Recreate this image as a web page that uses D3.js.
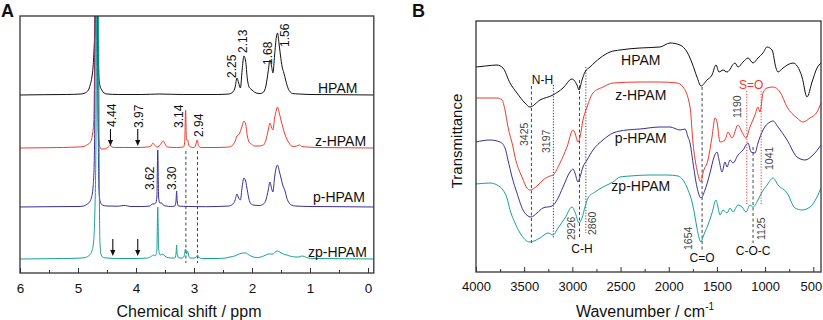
<!DOCTYPE html>
<html><head><meta charset="utf-8">
<script src="https://cdn.jsdelivr.net/npm/d3@7"></script>
<style>body{margin:0;background:#fff} svg{display:block} text{font-family:"Liberation Sans",Arial,Helvetica,sans-serif}</style>
</head><body><svg id="c" width="823" height="320"></svg>
<script>
// ---------------- DATA ----------------
const nmrSeries = ["HPAM", "z-HPAM", "p-HPAM", "zp-HPAM"];
const nmrOffsets = [178, 125, 66, 14];           // stacking offsets (a.u.)
const nmrTicks = [6, 5, 4, 3, 2, 1, 0];
const nmrMinorTicks = [5.5, 4.5, 3.5, 2.5, 1.5, 0.5];

// [ppm, intensity a.u.]
const nmrHPAM = [[6.0,0],[5.6,0.3],[5.2,0.5],[4.95,1],[4.88,2],[4.82,5],[4.79,10],[4.76,18],[4.74,28],[4.72,50],[4.71,65],[4.70,140],[4.69,300],[4.68,420],[4.67,300],[4.66,110],[4.65,40],[4.64,18],[4.62,9],[4.59,5],[4.55,2],[4.50,1],[4.3,0.5],[3.9,0.5],[3.6,1],[3.2,0.5],[2.6,0.5],[2.40,1],[2.33,3],[2.29,8],[2.26,17],[2.23,12],[2.20,7],[2.17,25],[2.14,39],[2.11,34],[2.08,16],[2.05,8],[2.02,6],[1.98,4],[1.93,2],[1.86,1.5],[1.80,3],[1.76,9],[1.72,24],[1.69,35],[1.66,28],[1.64,22],[1.61,40],[1.58,58],[1.56,62],[1.535,52],[1.51,40],[1.48,28],[1.45,22],[1.42,15],[1.38,7],[1.34,3],[1.30,1.5],[1.2,1],[1.0,0.5],[0.5,0.3],[-0.1,0]];
const nmrZ = [[6.0,0],[5.5,0.3],[5.0,1],[4.9,1.5],[4.85,3],[4.80,5],[4.77,8],[4.75,14],[4.73,25],[4.72,50],[4.71,120],[4.70,300],[4.685,420],[4.67,260],[4.66,60],[4.65,15],[4.63,3],[4.60,-1],[4.55,-1],[4.50,0],[4.46,2],[4.44,3],[4.42,1],[4.35,0.5],[4.2,0.5],[4.0,0.5],[3.8,1],[3.74,2],[3.71,5],[3.68,3],[3.64,1],[3.60,2],[3.56,5],[3.53,7],[3.50,4],[3.46,1],[3.3,0.5],[3.18,1],[3.16,6],[3.145,38],[3.13,8],[3.11,8],[3.09,3],[3.06,1],[3.0,0.5],[2.97,3],[2.945,8],[2.92,2],[2.88,0.5],[2.6,0.5],[2.40,1],[2.33,3],[2.29,7],[2.26,12],[2.22,14],[2.17,22],[2.14,27],[2.11,24],[2.08,12],[2.05,6],[2.01,4],[1.96,2],[1.88,2],[1.80,3],[1.76,8],[1.72,18],[1.69,25],[1.66,20],[1.64,18],[1.61,30],[1.58,38],[1.56,41],[1.53,35],[1.50,28],[1.47,21],[1.44,15],[1.40,9],[1.36,5],[1.32,2],[1.26,1.5],[1.21,2.5],[1.18,3],[1.14,1.5],[1.05,1],[0.9,0.5],[0.5,0.3],[-0.1,0]];
const nmrP = [[6.0,0],[5.5,0.3],[5.0,0.5],[4.9,1],[4.84,3],[4.80,5],[4.77,9],[4.74,20],[4.72,45],[4.71,100],[4.70,300],[4.68,420],[4.665,300],[4.65,70],[4.64,20],[4.62,6],[4.58,2],[4.5,1],[4.3,0.8],[4.22,1.5],[4.18,1.5],[4.1,0.5],[3.9,0.5],[3.76,1],[3.72,3],[3.69,3],[3.66,4],[3.64,10],[3.625,57],[3.61,10],[3.59,4],[3.56,4],[3.53,2],[3.48,1],[3.4,0.5],[3.33,1],[3.31,6],[3.30,16],[3.29,6],[3.27,1],[3.1,0.5],[2.8,0.3],[2.40,1],[2.33,3],[2.29,7],[2.26,13],[2.23,9],[2.20,7],[2.17,20],[2.14,29],[2.11,26],[2.09,20],[2.06,10],[2.03,4],[1.98,2],[1.88,1.5],[1.80,3],[1.76,7],[1.72,17],[1.69,25],[1.66,18],[1.64,15],[1.61,30],[1.58,40],[1.56,42],[1.53,36],[1.50,29],[1.47,22],[1.43,16],[1.40,9],[1.36,4],[1.32,2],[1.25,1],[1.0,0.5],[0.5,0.3],[-0.1,0]];
const nmrZP = [[6.0,0],[5.5,0.3],[5.0,0.8],[4.9,1.2],[4.85,2],[4.80,4],[4.76,8],[4.73,18],[4.71,45],[4.69,120],[4.675,300],[4.66,420],[4.645,250],[4.63,50],[4.62,15],[4.60,4],[4.56,1.5],[4.5,1],[4.3,0.5],[4.0,0.5],[3.8,1],[3.73,3],[3.70,4],[3.67,3],[3.64,9],[3.625,52],[3.61,10],[3.58,4],[3.55,5],[3.52,4],[3.48,2],[3.4,1],[3.33,1],[3.31,5],[3.30,14],[3.29,5],[3.26,1],[3.2,1],[3.17,3],[3.145,10],[3.13,5],[3.11,8],[3.095,4],[3.07,1],[3.0,1],[2.96,2],[2.94,4],[2.92,1.5],[2.85,0.5],[2.6,0.5],[2.45,1],[2.38,2],[2.30,3],[2.22,5],[2.16,6],[2.11,6],[2.05,4],[1.98,2],[1.90,1.5],[1.82,2.5],[1.76,4],[1.72,5],[1.68,5],[1.64,5],[1.60,7],[1.56,8],[1.52,7],[1.46,5],[1.40,4],[1.32,2.5],[1.24,2],[1.19,2],[1.14,3],[1.10,2.5],[1.03,1],[0.95,0.5],[0.5,0.3],[-0.1,0]];
const nmrPeakLabels = ["2.25","2.13","1.68","1.56","4.44","3.97","3.14","2.94","3.62","3.30"];
const nmrArrowPpm = [4.44, 3.97];
const nmrGuidePpm = [3.14, 2.94];

const irSeries = ["HPAM", "z-HPAM", "p-HPAM", "zp-HPAM"];
const irTicks = [4000, 3500, 3000, 2500, 2000, 1500, 1000, 500];
const irMinorTicks = [3750, 3250, 2750, 2250, 1750, 1250, 750];
// [wavenumber cm-1, transmittance a.u. (stacked)]
const irHPAM = [[4000,205],[3900,206],[3782,207],[3720,204],[3647,189],[3575,179],[3492,169],[3440,165],[3336,172],[3201,177],[3097,184],[3004,193],[2952,187],[2931,182],[2900,192],[2869,200],[2817,205],[2713,214],[2609,220],[2506,222],[2298,224],[2090,225],[1987,229],[1883,227],[1810,220],[1758,209],[1707,195],[1665,186],[1603,192],[1551,197],[1510,207],[1478,200],[1437,202],[1395,200],[1312,209],[1281,205],[1229,210],[1177,214],[1125,209],[1074,214],[1022,219],[980,225],[928,222],[887,204],[866,200],[814,204],[710,209],[617,195],[565,175],[513,190],[461,204],[420,209]];
const irZ = [[4000,174],[3782,174],[3730,172],[3699,162],[3668,145],[3616,125],[3595,115],[3523,95],[3471,84],[3440,82],[3367,86],[3305,92],[3232,96],[3201,97],[3128,109],[3056,125],[2993,142],[2973,139],[2942,130],[2921,135],[2890,152],[2848,165],[2786,179],[2682,185],[2578,189],[2298,190],[2090,190],[1914,189],[1852,185],[1779,165],[1748,129],[1707,102],[1665,90],[1645,99],[1593,112],[1551,135],[1520,154],[1499,150],[1468,130],[1416,132],[1385,140],[1343,134],[1281,147],[1240,140],[1198,134],[1157,145],[1105,157],[1074,165],[1053,160],[1022,179],[980,184],[918,185],[845,180],[772,165],[669,154],[607,150],[534,154],[461,160],[420,169]];
const irP = [[4000,130],[3855,132],[3751,130],[3699,124],[3668,112],[3626,95],[3575,79],[3512,62],[3429,55],[3367,59],[3305,64],[3211,66],[3159,72],[3097,85],[3025,100],[2993,103],[2973,99],[2942,90],[2921,95],[2890,105],[2848,112],[2786,122],[2682,132],[2578,139],[2433,142],[2298,143],[2090,145],[1987,145],[1883,142],[1831,143],[1800,135],[1779,129],[1748,109],[1707,85],[1665,74],[1624,82],[1572,99],[1530,115],[1499,120],[1478,112],[1447,100],[1416,110],[1395,105],[1364,112],[1333,109],[1281,117],[1229,122],[1177,129],[1146,120],[1105,119],[1074,129],[1022,142],[949,150],[918,151],[866,145],[772,132],[669,115],[586,112],[503,117],[420,127]];
const irZP = [[4000,88],[3855,89],[3782,87],[3720,82],[3678,74],[3647,62],[3595,49],[3543,39],[3440,30],[3336,34],[3253,39],[3201,37],[3149,44],[3076,54],[3004,65],[2973,60],[2931,49],[2900,54],[2869,65],[2838,74],[2765,80],[2682,85],[2578,90],[2506,95],[2402,96],[2194,97],[2018,97],[1904,96],[1852,92],[1800,82],[1758,70],[1727,55],[1707,44],[1665,30],[1645,35],[1624,40],[1593,47],[1551,59],[1510,72],[1489,65],[1468,57],[1437,62],[1395,59],[1364,64],[1333,60],[1281,67],[1240,65],[1198,60],[1157,67],[1125,65],[1074,72],[1032,80],[980,87],[918,94],[866,87],[772,79],[690,64],[617,62],[534,65],[461,75],[420,84]];
const irBandLabels = ["3425","3197","2926","2860","1654","1125","1190","1041"];
const irGroupLabels = ["N-H","C-H","C=O","C-O-C","S=O"];

const colors = ["#111111", "#f2392b", "#3a2f96", "#16a097"];

// ---------------- DRAW ----------------
const svg = d3.select("#c");
const FONT = '"Liberation Sans",Arial,sans-serif';

// ===== Panel A =====
const A = {l:20, r:373.8, t:16, b:273};
const xA = d3.scaleLinear().domain([6, -0.1]).range([A.l, A.r]);
const yA = d3.scaleLinear().domain([0, 257]).range([A.b, A.t]);
svg.append("clipPath").attr("id","clipA").append("rect")
  .attr("x",A.l).attr("y",A.t).attr("width",A.r-A.l).attr("height",A.b-A.t);

const gA = svg.append("g");
nmrGuidePpm.forEach(p => {
  gA.append("line").attr("x1",xA(p)).attr("x2",xA(p))
    .attr("y1",yA(nmrOffsets[1]) + 3).attr("y2",263)
    .attr("stroke","#444").attr("stroke-width",1).attr("stroke-dasharray","3,2.5");
});
const nmrData = [nmrHPAM, nmrZ, nmrP, nmrZP];
const lineA = (off) => d3.line().x(d=>xA(d[0])).y(d=>yA(d[1]+off)).curve(d3.curveMonotoneX);
const gAL = gA.append("g").attr("clip-path","url(#clipA)");
nmrData.forEach((s,i) => {
  gAL.append("path").datum(s).attr("d", lineA(nmrOffsets[i])).attr("fill","none")
    .attr("stroke", colors[i]).attr("stroke-width", 1).attr("stroke-linejoin","round");
});
const nmrLabelStart = [318, 315, 313, 308];
const nmrLabelBase = [93, 146, 202, 257];
nmrSeries.forEach((n,i) => {
  gA.append("text").attr("x",nmrLabelStart[i]).attr("y",nmrLabelBase[i])
    .attr("font-size",14).attr("fill","#111").text(n);
});
const nmrLabelLayout = {"2.25":[-5.5,78],"2.13":[-1.5,53],"1.68":[-2.6,65],"1.56":[7,47],
  "4.44":[1.5,127],"3.97":[1.3,128],"3.14":[-7,128],"2.94":[1.5,137],"3.62":[-8.5,190],"3.30":[-4.6,190]};
nmrPeakLabels.forEach(t => {
  const [dx, bot] = nmrLabelLayout[t];
  const cx = xA(+t) + dx;
  gA.append("text").attr("transform",`translate(${cx+4.3},${bot}) rotate(-90)`)
    .attr("font-size",12).attr("fill","#111").text(t);
});
function arrow(g, x, y1, y2) {
  g.append("line").attr("x1",x).attr("x2",x).attr("y1",y1).attr("y2",y2-5)
    .attr("stroke","#111").attr("stroke-width",1.1);
  g.append("path").attr("d",`M${x-2.6},${y2-6} L${x+2.6},${y2-6} L${x},${y2} Z`).attr("fill","#111");
}
nmrArrowPpm.forEach(p => arrow(gA, xA(p), 129, 146));
[4.40, 3.97].forEach(p => arrow(gA, xA(p), 239, 256));
gA.append("rect").attr("x",A.l).attr("y",A.t).attr("width",A.r-A.l).attr("height",A.b-A.t)
  .attr("fill","none").attr("stroke","#333").attr("stroke-width",1.3);
const axA = gA.append("g").attr("transform",`translate(0,${A.b})`)
  .call(d3.axisBottom(xA).tickValues(nmrTicks).tickFormat(d3.format("d")).tickSize(-5).tickPadding(10));
axA.select(".domain").remove();
axA.selectAll("text").attr("font-size",13.5).attr("font-family",FONT).attr("fill","#111");
axA.selectAll("line").attr("stroke","#333");
const axAm = gA.append("g").attr("transform",`translate(0,${A.b})`)
  .call(d3.axisBottom(xA).tickValues(nmrMinorTicks).tickFormat("").tickSize(-3));
axAm.select(".domain").remove(); axAm.selectAll("line").attr("stroke","#333");
gA.append("text").attr("x",189).attr("y",317).attr("text-anchor","middle")
  .attr("font-size",16).attr("fill","#111").text("Chemical shift / ppm");
svg.append("text").attr("x",1).attr("y",16.5).attr("font-size",18).attr("font-weight","bold").attr("fill","#111").text("A");

// ===== Panel B =====
const B = {l:476, r:821, t:21, b:272};
const xB = d3.scaleLinear().domain([4000, 420]).range([B.l, B.r]);
const yB = d3.scaleLinear().domain([0, 251]).range([B.b, B.t]);
svg.append("clipPath").attr("id","clipB").append("rect")
  .attr("x",B.l).attr("y",B.t).attr("width",B.r-B.l).attr("height",B.b-B.t);
const gB = svg.append("g");
const irGuides = [[3425,86,245,"3,2.5","#444"],[3197,85,238,"1.2,1.6","#444"],[2926,80,238,"3,2.5","#444"],
  [2860,67,233,"1.2,1.6","#444"],[1654,87,250,"3,2.5","#444"],[1125,147,243,"3,2.5","#444"],
  [1190,91,205,"1.2,1.6","#f2392b"],[1041,91,205,"1.2,1.6","#f2392b"]];
irGuides.forEach(([w,y1,y2,da,c]) => {
  gB.append("line").attr("x1",xB(w)).attr("x2",xB(w)).attr("y1",y1).attr("y2",y2)
    .attr("stroke",c).attr("stroke-width",1).attr("stroke-dasharray",da);
});
const irData = [irHPAM, irZ, irP, irZP];
const lineB = d3.line().x(d=>xB(d[0])).y(d=>yB(d[1])).curve(d3.curveMonotoneX);
const gBL = gB.append("g").attr("clip-path","url(#clipB)");
irData.forEach((s,i) => {
  gBL.append("path").datum(s).attr("d", lineB).attr("fill","none")
    .attr("stroke", colors[i]).attr("stroke-width", 1).attr("stroke-linejoin","round");
});
const irLabelBase = [65, 100, 143, 191];
irSeries.forEach((n,i) => {
  gB.append("text").attr("x",xB(2290)).attr("y",irLabelBase[i]).attr("text-anchor","middle")
    .attr("font-size",14).attr("fill","#111").text(n);
});
const irLabelLayout = {"3425":[-7.4,146],"3197":[-6.9,153],"2926":[-8.5,240],"2860":[6.2,235],
  "1654":[-14,250],"1125":[8.4,240],"1190":[-9.3,118],"1041":[8,170]};
irBandLabels.forEach(t => {
  const [dx, bot] = irLabelLayout[t];
  const cx = xB(+t) + dx;
  gB.append("text").attr("transform",`translate(${cx+3.8},${bot}) rotate(-90)`)
    .attr("font-size",10.5).attr("fill","#444").text(t);
});
const irGroupLayout = {"N-H":[3310,84,"#111"],"C-H":[2900,253,"#111"],"C=O":[1654,262,"#111"],
  "C-O-C":[1125,255,"#111"],"S=O":[1145,89,"#f2392b"]};
irGroupLabels.forEach(t => {
  const [w, yb, c] = irGroupLayout[t];
  gB.append("text").attr("x",xB(w)).attr("y",yb).attr("text-anchor","middle")
    .attr("font-size",12).attr("fill",c).text(t);
});
gB.append("rect").attr("x",B.l).attr("y",B.t).attr("width",B.r-B.l).attr("height",B.b-B.t)
  .attr("fill","none").attr("stroke","#333").attr("stroke-width",1.3);
const axB = gB.append("g").attr("transform",`translate(0,${B.b})`)
  .call(d3.axisBottom(xB).tickValues(irTicks).tickFormat(d3.format("d")).tickSize(-5).tickPadding(10));
axB.select(".domain").remove();
axB.selectAll("text").attr("font-size",13).attr("font-family",FONT).attr("fill","#111")
  .attr("dx", d => d === 500 ? -2.5 : 0);
axB.selectAll("line").attr("stroke","#333");
const axBm = gB.append("g").attr("transform",`translate(0,${B.b})`)
  .call(d3.axisBottom(xB).tickValues(irMinorTicks).tickFormat("").tickSize(-3));
axBm.select(".domain").remove(); axBm.selectAll("line").attr("stroke","#333");
const xt = gB.append("text").attr("x",645).attr("y",317).attr("text-anchor","middle")
  .attr("font-size",16).attr("fill","#111");
xt.append("tspan").text("Wavenumber / cm");
xt.append("tspan").attr("dy",-7).attr("font-size",10).text("-1");
gB.append("text").attr("transform","translate(462,141) rotate(-90)").attr("text-anchor","middle")
  .attr("font-size",15).attr("fill","#111").text("Transmittance");
svg.append("text").attr("x",412).attr("y",17).attr("font-size",18).attr("font-weight","bold").attr("fill","#111").text("B");
</script></body></html>
